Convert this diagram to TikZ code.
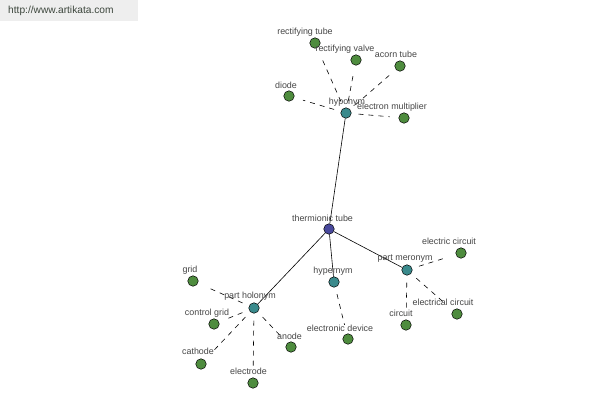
\documentclass[tikz,border=0pt]{standalone}
\usepackage{fontspec}
\setmainfont{Liberation Sans}
\begin{document}
\begin{tikzpicture}[x=1bp,y=-1bp,
  vtx/.style={circle,draw=black,line width=0.5bp,inner sep=0pt,minimum size=10.5bp},
  leaf/.style={vtx,fill=leafc},
  rel/.style={vtx,fill=relc},
  root/.style={vtx,fill=rootc},
  lbl/.style={text=txtc,font=\fontsize{8.9bp}{10bp}\selectfont,inner sep=0pt},
  solidedge/.style={draw=black,line width=0.6bp},
  dashedge/.style={draw=black,line width=0.6bp,dash pattern=on 5bp off 5bp,shorten <=7bp,shorten >=9bp}]
\definecolor{leafc}{RGB}{78,140,62}
\definecolor{relc}{RGB}{58,138,140}
\definecolor{rootc}{RGB}{72,72,156}
\definecolor{txtc}{RGB}{70,70,70}
\definecolor{wmbg}{RGB}{238,238,238}
\definecolor{wmtxt}{RGB}{60,70,60}
\useasboundingbox[fill=white] (0,0) rectangle (600,400);
\fill[wmbg] (0,0) rectangle (138,21);
\node[text=wmtxt,font=\fontsize{10.2bp}{11bp}\selectfont,inner sep=0pt,anchor=west] (wm) at (8,11) {http://www.artikata.com};
% nodes
\node[root] (tt) at (329,229) {};
\node[rel] (hypo) at (346,113) {};
\node[rel] (hyper) at (334,282) {};
\node[rel] (mer) at (407,270) {};
\node[rel] (hol) at (254,308) {};
\node[leaf] (rtube) at (315,43) {};
\node[leaf] (rvalve) at (356,60) {};
\node[leaf] (acorn) at (400,66) {};
\node[leaf] (diode) at (289,96) {};
\node[leaf] (emult) at (404,118) {};
\node[leaf] (edev) at (348,339) {};
\node[leaf] (ecirc) at (461,253) {};
\node[leaf] (elcirc) at (457,314) {};
\node[leaf] (circ) at (406,325) {};
\node[leaf] (grid) at (193,281) {};
\node[leaf] (cgrid) at (214,324) {};
\node[leaf] (cath) at (201,364) {};
\node[leaf] (electrode) at (253,383) {};
\node[leaf] (anode) at (291,347) {};
% edges
\draw[solidedge] (tt) -- (hypo);
\draw[solidedge] (tt) -- (hyper);
\draw[solidedge] (tt) -- (mer);
\draw[solidedge] (tt) -- (hol);
\foreach \n in {rtube,rvalve,acorn,diode,emult} \draw[dashedge] (hypo) -- (\n);
\draw[dashedge] (hyper) -- (edev);
\foreach \n in {ecirc,elcirc,circ} \draw[dashedge] (mer) -- (\n);
\foreach \n in {grid,cgrid,cath,electrode,anode} \draw[dashedge] (hol) -- (\n);
% labels
\node[lbl] (ltt) at (322.5,218) {thermionic tube};
\node[lbl] (lhypo) at (347,102) {hyponym};
\node[lbl] (lhyper) at (333,271) {hypernym};
\node[lbl] (lmer) at (405,259) {part meronym};
\node[lbl] (lhol) at (250,296) {part holonym};
\node[lbl] (lrtube) at (305,32) {rectifying tube};
\node[lbl] (lrvalve) at (345,49) {rectifying valve};
\node[lbl] (lacorn) at (396,54) {acorn tube};
\node[lbl] (ldiode) at (286,85) {diode};
\node[lbl] (lemult) at (392,107) {electron multiplier};
\node[lbl] (ledev) at (340,328) {electronic device};
\node[lbl] (lecirc) at (449,241) {electric circuit};
\node[lbl] (lelcirc) at (443,302) {electrical circuit};
\node[lbl] (lcirc) at (401,313) {circuit};
\node[lbl] (lgrid) at (190,270) {grid};
\node[lbl] (lcgrid) at (207,313) {control grid};
\node[lbl] (lcath) at (198,351) {cathode};
\node[lbl] (lelectrode) at (248.5,371) {electrode};
\node[lbl] (lanode) at (289.5,336) {anode};
\end{tikzpicture}
\end{document}
